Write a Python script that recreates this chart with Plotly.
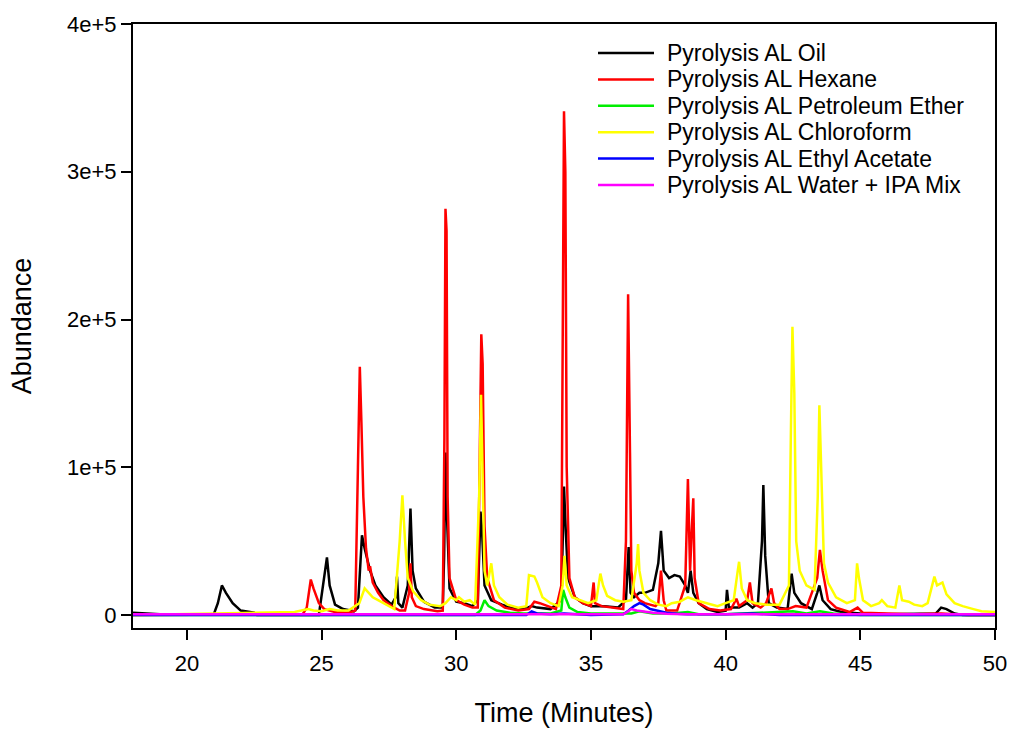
import plotly.graph_objects as go

# ---------------- data ----------------
series_names = [
    "Pyrolysis AL Oil",
    "Pyrolysis AL Hexane",
    "Pyrolysis AL Petroleum Ether",
    "Pyrolysis AL Chloroform",
    "Pyrolysis AL Ethyl Acetate",
    "Pyrolysis AL Water + IPA Mix",
]
series_colors = ["#000000", "#ff0000", "#00ee00", "#ffff00", "#0000ff", "#ff00ff"]

oil_t = [18.0, 18.9, 19.0, 21.0, 21.15, 21.3, 21.45, 21.7, 22.0, 22.5, 22.6, 24.9,
         25.1, 25.2, 25.3, 25.5, 25.8, 26.2, 26.35, 26.5, 26.6, 26.8, 27.0, 27.3, 27.6,
         27.75, 27.8, 27.85, 28.0, 28.2, 28.3, 28.38, 28.5, 28.8, 29.2, 29.5, 29.55, 29.6,
         29.65, 29.75, 30.0, 30.3, 30.6, 30.8, 30.9, 30.95, 31.05, 31.3, 31.7, 32.0, 32.5,
         32.8, 33.0, 33.5, 33.9, 34.0, 34.07, 34.15, 34.4, 34.7, 35.0, 35.5, 36.0, 36.3,
         36.4, 36.47, 36.6, 36.8, 37.0, 37.3, 37.5, 37.6, 37.7, 37.9, 38.1, 38.3, 38.5,
         38.6, 38.7, 38.8, 39.0, 39.3, 39.7, 40.0, 40.05, 40.12, 40.5, 40.8, 41.0, 41.2,
         41.35, 41.4, 41.47, 41.6, 41.9, 42.3, 42.45, 42.55, 42.8, 43.2, 43.4, 43.48, 43.6,
         43.9, 44.3, 45.0, 46.0, 47.8, 48.0, 48.2, 48.5, 48.8, 50.0]
oil_y = [1500, 1000, 500, 500, 8000, 20000, 15000, 8000, 3000, 1500, 0, 0,
         25000, 39000, 20000, 7000, 4000, 2500, 5000, 54000, 45000, 30000, 20000, 12000, 7000,
         12000, 26000, 8000, 5000, 20000, 72000, 30000, 18000, 9000, 5000, 5000, 40000, 110000,
         70000, 18000, 9000, 8000, 6000, 10000, 70000, 60000, 20000, 10000, 7000, 5000, 4000,
         6000, 5000, 4000, 10000, 87000, 55000, 25000, 12000, 8000, 6000, 6000, 5000, 10000,
         46000, 15000, 12000, 15000, 15000, 17000, 35000, 57000, 30000, 25000, 27000, 26000, 20000,
         15000, 30000, 15000, 8000, 4000, 2000, 3000, 17000, 5000, 5000, 8000, 5000, 8000,
         50000, 88000, 40000, 8000, 5000, 4000, 28000, 15000, 8000, 4000, 15000, 20000, 10000,
         4000, 2000, 1000, 500, 1000, 5000, 4000, 1000, 0, 0]

hex_t = [18.0, 24.3, 24.45, 24.55, 24.6, 24.7, 24.9, 25.1, 25.5, 26.0, 26.25, 26.35,
         26.42, 26.48, 26.55, 26.65, 26.75, 26.8, 26.9, 27.1, 27.3, 27.6, 27.9, 28.1,
         28.25, 28.3, 28.35, 28.5, 28.8, 29.3, 29.5, 29.56, 29.6, 29.64, 29.68, 29.75, 30.0,
         30.3, 30.6, 30.8, 30.88, 30.93, 30.98, 31.05, 31.15, 31.4, 31.8, 32.3, 32.7, 32.9,
         33.1, 33.4, 33.7, 33.9, 33.95, 34.0, 34.05, 34.1, 34.2, 34.4, 34.7, 35.0, 35.1,
         35.15, 35.4, 35.8, 36.2, 36.3, 36.38, 36.45, 36.5, 36.6, 36.8, 37.0, 37.4, 37.5,
         37.6, 37.7, 37.8, 38.2, 38.5, 38.6, 38.68, 38.75, 38.8, 38.85, 39.0, 39.4, 39.8,
         40.2, 40.4, 40.5, 40.8, 40.9, 41.0, 41.3, 41.5, 41.7, 41.8, 42.0, 42.3, 42.6, 43.0,
         43.4, 43.5, 43.6, 43.8, 44.1, 44.6, 44.9, 45.1, 46.0, 47.0, 48.0, 48.5, 49.0, 50.0]
hex_y = [0, 500, 5000, 20000, 24000, 18000, 8000, 4000, 2000, 1500, 3000, 100000,
         168000, 130000, 80000, 45000, 30000, 33000, 22000, 15000, 10000, 6000, 3000, 3000,
         15000, 35000, 12000, 6000, 4000, 2500, 3000, 120000, 275000, 260000, 80000, 25000, 10000,
         7000, 5000, 5000, 120000, 190000, 170000, 60000, 25000, 10000, 5000, 3000, 4000, 9000,
         8000, 6000, 4000, 20000, 230000, 341000, 300000, 100000, 25000, 12000, 8000, 6000, 22000,
         8000, 6000, 5000, 4000, 50000, 217000, 110000, 30000, 15000, 10000, 8000, 6000, 8000,
         30000, 10000, 3000, 3000, 20000, 92000, 30000, 60000, 79000, 25000, 8000, 4000, 3000,
         4000, 11000, 6000, 10000, 22000, 8000, 5000, 8000, 18000, 8000, 4000, 4000, 6000, 5000,
         25000, 44000, 30000, 10000, 5000, 2000, 5000, 1500, 1000, 500, 1000, 500, 0, 0]

pet_t = [18.0, 30.7, 30.9, 31.05, 31.2, 31.5, 32.0, 32.5, 33.5, 33.9, 33.97, 34.05,
         34.2, 34.5, 35.0, 36.5, 36.8, 37.3, 38.0, 38.6, 39.0, 40.0, 42.5, 43.0, 43.5,
         44.0, 45.0, 50.0]
pet_y = [0, 0, 3000, 10000, 6000, 3000, 1500, 1000, 1000, 3000, 17000, 12000,
         5000, 2000, 1000, 1000, 2500, 1000, 1000, 2000, 500, 500, 2500, 1000, 2500,
         1000, 0, 0]

chl_t = [18.0, 22.5, 23.5, 24.0, 24.5, 24.7, 25.0, 25.3, 25.6, 26.0, 26.4, 26.6, 26.7,
         26.9, 27.2, 27.5, 27.7, 27.9, 28.0, 28.1, 28.2, 28.4, 28.7, 29.0, 29.4, 29.6, 29.8,
         30.0, 30.1, 30.3, 30.5, 30.7, 30.85, 30.92, 30.97, 31.05, 31.15, 31.25, 31.3, 31.4,
         31.6, 31.9, 32.3, 32.6, 32.7, 32.9, 33.0, 33.2, 33.5, 33.8, 33.95, 34.02, 34.1,
         34.3, 34.6, 34.9, 35.2, 35.35, 35.45, 35.6, 35.9, 36.2, 36.5, 36.7, 36.75, 36.8,
         36.95, 37.2, 37.5, 37.8, 38.0, 38.3, 38.6, 38.9, 39.3, 39.7, 40.0, 40.3, 40.45,
         40.5, 40.6, 40.8, 41.1, 41.5, 42.0, 42.35, 42.42, 42.48, 42.55, 42.62, 42.75, 43.0,
         43.3, 43.42, 43.48, 43.55, 43.65, 43.8, 44.1, 44.5, 44.8, 44.88, 44.95, 45.1, 45.4,
         45.7, 45.8, 46.0, 46.3, 46.45, 46.55, 46.8, 47.0, 47.3, 47.5, 47.75, 47.85, 48.05,
         48.2, 48.5, 48.8, 49.2, 49.5, 50.0]
chl_y = [0, 1500, 2000, 2000, 4000, 3000, 2500, 4000, 3000, 3000, 8000, 18000, 16000,
         12000, 9000, 6000, 4000, 50000, 81000, 50000, 25000, 16000, 10000, 7000, 6000, 8000, 12000,
         10000, 12000, 9000, 10000, 7000, 80000, 149000, 100000, 30000, 20000, 30000, 35000, 20000,
         12000, 7000, 5000, 6000, 27000, 26000, 22000, 12000, 8000, 6000, 20000, 40000, 20000,
         12000, 10000, 8000, 10000, 28000, 20000, 13000, 10000, 9000, 10000, 35000, 48000, 30000,
         15000, 10000, 7000, 6000, 8000, 9000, 12000, 10000, 8000, 6000, 8000, 10000, 30000,
         36000, 18000, 10000, 8000, 7000, 7000, 20000, 120000, 195000, 150000, 50000, 30000, 20000,
         17000, 80000, 142000, 90000, 35000, 22000, 12000, 8000, 10000, 35000, 25000, 10000, 6000,
         8000, 10000, 6000, 5000, 20000, 10000, 9000, 7000, 6000, 8000, 26000, 20000, 22000,
         14000, 8000, 6000, 4000, 2500, 2000]

eth_t = [18.0, 32.6, 32.8, 33.0, 33.5, 34.0, 35.0, 36.2, 36.4, 36.6, 36.8, 36.95,
         37.2, 37.5, 37.8, 38.2, 38.6, 40.0, 41.0, 42.0, 50.0]
eth_y = [0, 0, 2500, 1000, 500, 1000, 0, 500, 3000, 6000, 8000, 7000,
         4000, 2500, 1500, 800, 500, 500, 1000, 0, 0]

wat_t = [18.0, 36.2, 36.35, 36.5, 36.7, 37.0, 37.3, 37.8, 38.5, 50.0]
wat_y = [500, 500, 2000, 4000, 3000, 2000, 1500, 800, 500, 500]

series_t = [oil_t, hex_t, pet_t, chl_t, eth_t, wat_t]
series_y = [oil_y, hex_y, pet_y, chl_y, eth_y, wat_y]

x_ticks = [20, 25, 30, 35, 40, 45, 50]
y_ticks = [0, 100000, 200000, 300000, 400000]
y_tick_labels = ["0", "1e+5", "2e+5", "3e+5", "4e+5"]

# ---------------- figure ----------------
FONT = "Arial, Liberation Sans, Helvetica, sans-serif"
fig = go.Figure()
for name, color, t, y in zip(series_names, series_colors, series_t, series_y):
    fig.add_trace(go.Scatter(x=t, y=y, mode="lines", name=name,
                             line=dict(color=color, width=2.5), showlegend=False))

# legend drawn at fixed paper positions (line sample + text)
plot_l, plot_r, plot_t, plot_b = 133, 995, 24, 628
def px_x(p):
    return (p - plot_l) / (plot_r - plot_l)
def px_y(p):
    return (plot_b - p) / (plot_b - plot_t)

row0, row_gap = 53, 26.4
for i, (name, color) in enumerate(zip(series_names, series_colors)):
    yy = px_y(row0 + i * row_gap)
    fig.add_shape(type="line", xref="paper", yref="paper",
                  x0=px_x(598), x1=px_x(654), y0=yy, y1=yy,
                  line=dict(color=color, width=2.5))
    fig.add_annotation(xref="paper", yref="paper", x=px_x(665), y=yy,
                       xanchor="left", yanchor="middle", showarrow=False,
                       text=name, font=dict(family=FONT, size=23, color="black"))

axis_common = dict(showline=True, linecolor="black", linewidth=2, mirror=True,
                   ticks="outside", ticklen=10, tickwidth=2, tickcolor="black",
                   showgrid=False, zeroline=False, automargin=False,
                   tickfont=dict(family=FONT, size=22, color="black"))

fig.update_layout(
    width=1012, height=729,
    margin=dict(l=plot_l, r=1012 - plot_r, t=plot_t, b=729 - plot_b),
    paper_bgcolor="white", plot_bgcolor="white",
    font=dict(family=FONT, color="black"),
    xaxis=dict(range=[18, 50], tickvals=x_ticks, ticklabelstandoff=5,
               title=dict(text="Time (Minutes)", font=dict(family=FONT, size=27), standoff=28),
               **axis_common),
    yaxis=dict(range=[-8800, 400000], tickvals=y_ticks, ticktext=y_tick_labels,
               title=dict(text="Abundance", font=dict(family=FONT, size=27), standoff=28),
               **axis_common),
)

fig.write_html("out.html", config={"displayModeBar": False},
               post_script="document.body.style.margin='0px';document.body.style.padding='0px';")
